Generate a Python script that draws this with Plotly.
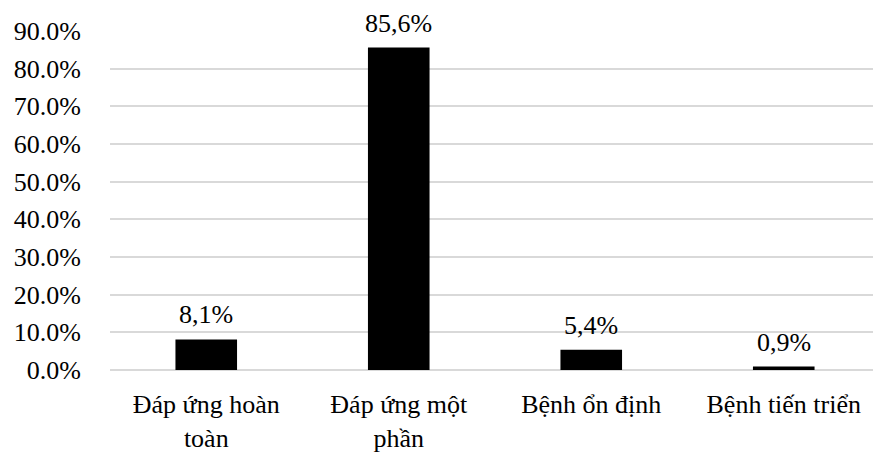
import plotly.graph_objects as go

categories = ["Đáp ứng hoàn<br>toàn", "Đáp ứng một<br>phần", "Bệnh ổn định", "Bệnh tiến triển"]
values = [8.1, 85.6, 5.4, 0.9]
labels = ["8,1%", "85,6%", "5,4%", "0,9%"]
y_ticks = [0, 10, 20, 30, 40, 50, 60, 70, 80, 90]
y_tick_text = ["0.0%", "10.0%", "20.0%", "30.0%", "40.0%", "50.0%", "60.0%", "70.0%", "80.0%", "90.0%"]

FONT = "Liberation Serif, Times New Roman, serif"

fig = go.Figure(go.Bar(
    x=categories, y=values,
    marker=dict(color="black", line=dict(width=0)),
    cliponaxis=False,
))

for c, v, t in zip(categories, values, labels):
    fig.add_annotation(
        x=c, y=v, text=t, showarrow=False, yanchor="bottom", yshift=8,
        font=dict(family=FONT, size=26, color="black"),
    )

fig.update_layout(
    width=873, height=445,
    margin=dict(l=102, r=1, t=23, b=83),
    paper_bgcolor="white", plot_bgcolor="white",
    bargap=0.68,
    showlegend=False,
    font=dict(family=FONT, size=26, color="black"),
)
fig.update_yaxes(
    range=[0, 90], tickvals=y_ticks, ticktext=y_tick_text,
    showgrid=True, gridcolor="#d9d9d9", gridwidth=1.5,
    zeroline=True, zerolinecolor="#d9d9d9", zerolinewidth=1.5,
    showline=False, ticks="", ticklabelstandoff=28, automargin=False,
    tickfont=dict(family=FONT, size=26, color="black"),
)
fig.update_xaxes(
    showline=False, ticks="", showgrid=False, automargin=False,
    tickfont=dict(family=FONT, size=26, color="black"),
    ticklabelstandoff=16,
)

fig.write_html("out.html")
